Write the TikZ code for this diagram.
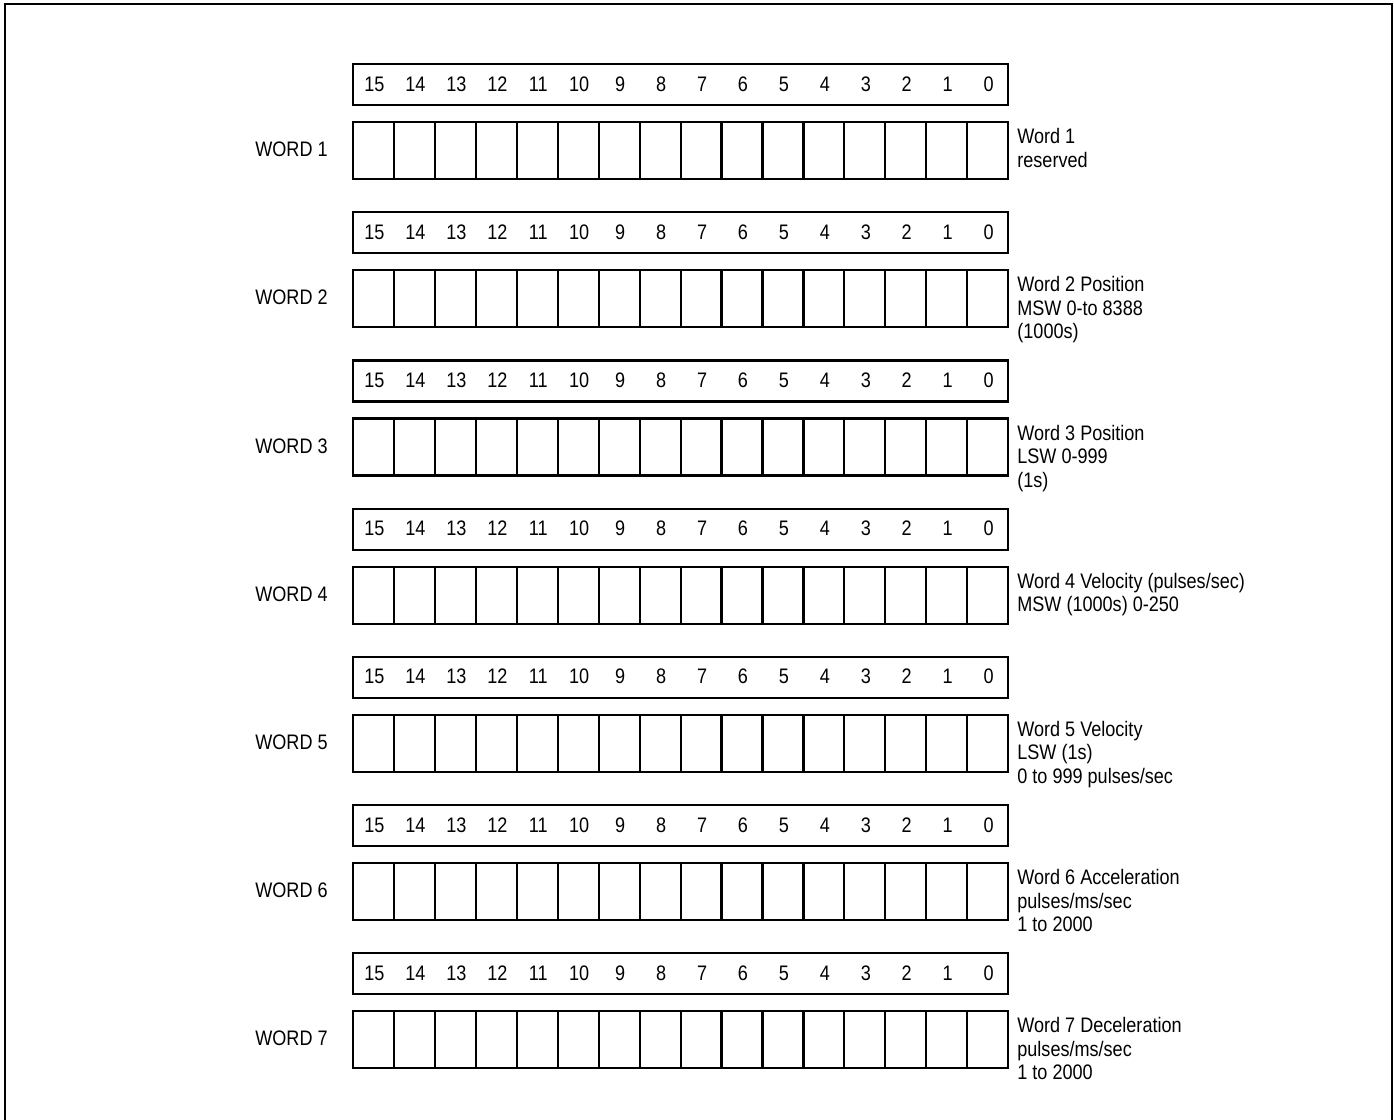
\documentclass[tikz,border=0pt]{standalone}
\usepackage{fontspec}
\setmainfont{Liberation Sans}[FakeStretch=0.86]
\begin{document}
\begin{tikzpicture}[x=0.5pt,y=-0.5pt,
    font=\fontsize{10.5}{11.75}\selectfont,
    intestazione/.style={draw, line width=1.1pt, anchor=north west, inner sep=0pt,
        minimum width=327.5pt, minimum height=20.5pt},
    casella/.style={draw, line width=1.1pt, anchor=north west, inner sep=0pt,
        minimum width=20.47pt, minimum height=28.5pt},
    numero/.style={anchor=base, inner sep=0pt},
    parola/.style={anchor=east, inner sep=0pt},
    descr/.style={anchor=north west, align=left, inner sep=0pt}]
    \useasboundingbox (0,0) rectangle (1394,1120);

    % Cornice esterna (aperta in basso)
    \draw[line width=1pt] (5,1125) -- (5,4) -- (1392,4) -- (1392,1125);

    % Righe delle parole: intestazione con i bit, caselle e descrizione
    \foreach \r/\desc in {1/{Word 1\\reserved},
        2/{Word 2 Position\\MSW 0-to 8388\\(1000s)},
        3/{Word 3 Position\\LSW 0-999\\(1s)},
        4/{Word 4 Velocity (pulses/sec)\\MSW (1000s) 0-250},
        5/{Word 5 Velocity\\LSW (1s)\\0 to 999 pulses/sec},
        6/{Word 6 Acceleration\\pulses/ms/sec\\1 to 2000},
        7/{Word 7 Deceleration\\pulses/ms/sec\\1 to 2000}} {
        \pgfmathsetmacro\yh{63+(\r-1)*148.2}
        % Intestazione con i numeri dei bit
        \node[intestazione] (h\r) at (352,\yh) {};
        \foreach \b in {0,...,15}
            \node[numero] (n\r-\b) at ({374.5+40.94*(15-\b)},{\yh+28}) {\b};
        % Caselle dei bit
        \foreach \b in {0,...,15}
            \node[casella] (c\r-\b) at ({352+40.94*(15-\b)},{\yh+58}) {};
        % Etichetta a sinistra
        \node[parola] (w\r) at (328,{\yh+86.5}) {WORD \r};
        % Descrizione a destra
        \node[descr] (d\r) at (1017,{\yh+65}) {\desc};
    }
\end{tikzpicture}
\end{document}
